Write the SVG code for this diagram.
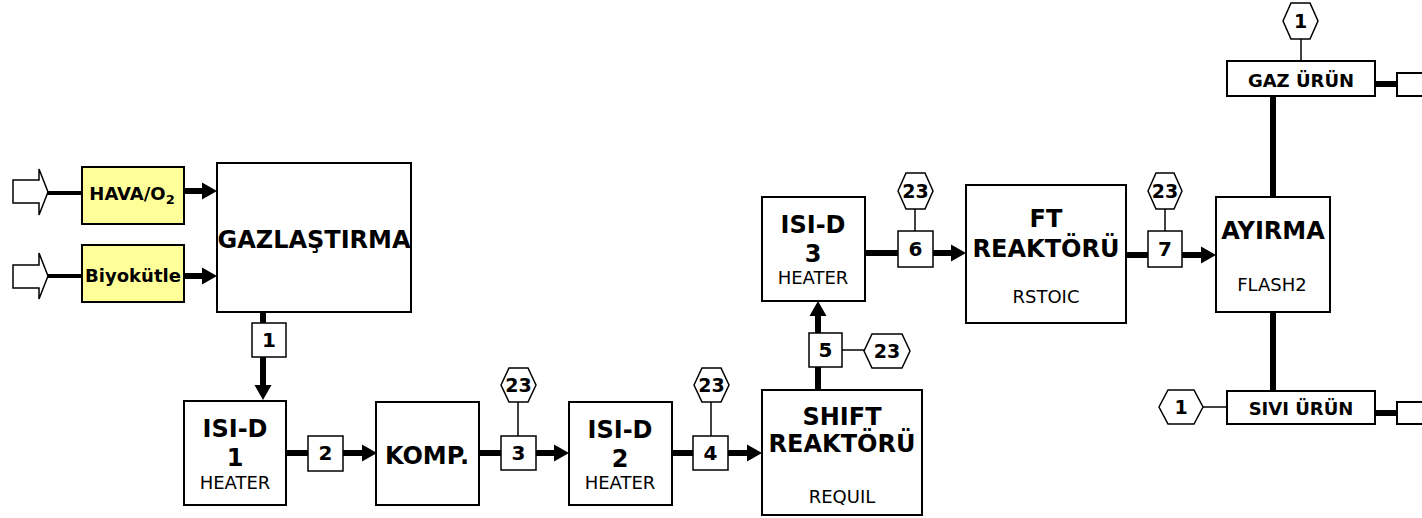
<svg xmlns="http://www.w3.org/2000/svg" width="1422" height="518" viewBox="0 0 1422 518">
<defs>
<style>
text{font-family:Verdana,"DejaVu Sans",sans-serif;fill:#000}
.blk{fill:#fff;stroke:#000;stroke-width:2}
.feedbox{fill:#ffff99;stroke:#000;stroke-width:2}
.sb{fill:#fff;stroke:#000;stroke-width:1.5}
.hex{fill:#fff;stroke:#000;stroke-width:1.5}
.thick{stroke:#000;stroke-width:6;fill:none}
.thin{stroke:#000;stroke-width:1.5;fill:none}
.feed{stroke:#000;stroke-width:4;fill:none}
.open{fill:#fff;stroke:#000;stroke-width:1.5}
.big{font-size:24px;font-weight:bold;text-anchor:middle}
.sub{font-size:18px;text-anchor:middle}
.num{font-size:20px;font-weight:bold;text-anchor:middle}
.hx{font-size:19px;font-weight:bold;text-anchor:middle}
.prod{font-size:18px;font-weight:bold;text-anchor:middle}
.lab{font-size:18px;font-weight:bold;text-anchor:middle}
</style>
<marker id="ah" markerUnits="userSpaceOnUse" markerWidth="16" markerHeight="18" refX="2" refY="8.5" orient="auto" overflow="visible">
<path d="M0,0 L15,8.5 L0,17 z" fill="#000"/>
</marker>
</defs>

<g id="connectors">
<polygon class="open" points="13,180 39,180 39,169 48,192 39,215 39,203 13,203"/>
<polygon class="open" points="13,265 39,265 39,253 48,276 39,299 39,288 13,288"/>
<line class="feed" x1="47" y1="193" x2="82" y2="193"/>
<line class="feed" x1="47" y1="276" x2="82" y2="276"/>
<line class="thick" x1="184" y1="191" x2="204" y2="191" marker-end="url(#ah)"/>
<line class="thick" x1="184" y1="276" x2="204" y2="276" marker-end="url(#ah)"/>
<line class="thick" x1="263" y1="312" x2="263" y2="387" marker-end="url(#ah)"/>
<line class="thick" x1="286" y1="453" x2="364" y2="453" marker-end="url(#ah)"/>
<line class="thick" x1="479" y1="453" x2="556" y2="453" marker-end="url(#ah)"/>
<line class="thin" x1="518" y1="402" x2="518" y2="436"/>
<line class="thick" x1="672" y1="453" x2="749" y2="453" marker-end="url(#ah)"/>
<line class="thin" x1="711" y1="402" x2="711" y2="436"/>
<line class="thick" x1="818" y1="390" x2="818" y2="314" marker-end="url(#ah)"/>
<line class="thin" x1="842" y1="350" x2="864" y2="350"/>
<line class="thick" x1="865" y1="253" x2="953" y2="253" marker-end="url(#ah)"/>
<line class="thin" x1="915" y1="209" x2="915" y2="231"/>
<line class="thick" x1="1126" y1="255" x2="1203" y2="255" marker-end="url(#ah)"/>
<line class="thin" x1="1165" y1="209" x2="1165" y2="231"/>
<line class="thick" x1="1273" y1="96" x2="1273" y2="197"/>
<line class="thick" x1="1273" y1="312" x2="1273" y2="391"/>
<line class="thin" x1="1301" y1="39" x2="1301" y2="61"/>
<line class="thin" x1="1203" y1="407" x2="1227" y2="407"/>
<line class="thick" x1="1375" y1="84" x2="1397" y2="84"/>
<line class="thick" x1="1375" y1="413" x2="1397" y2="413"/>
</g>

<g id="feed-hava">
<rect class="feedbox" x="82" y="167" width="102" height="57"/>
<text class="lab" x="132" y="200">HAVA/O<tspan font-size="13" dy="4">2</tspan></text>
</g>
<g id="feed-biyokutle">
<rect class="feedbox" x="82" y="245" width="102" height="57"/>
<text class="lab" x="133" y="282">Biyokütle</text>
</g>

<g id="gazlastirma">
<rect class="blk" x="217" y="163" width="194" height="149"/>
<text class="big" x="314" y="248">GAZLAŞTIRMA</text>
</g>

<g id="isid1">
<rect class="blk" x="184" y="401" width="102" height="104"/>
<text class="big" x="235" y="437">ISI-D</text>
<text class="big" x="235" y="466">1</text>
<text class="sub" x="235" y="489">HEATER</text>
</g>

<g id="komp">
<rect class="blk" x="376" y="402" width="103" height="103"/>
<text class="big" x="427" y="464">KOMP.</text>
</g>

<g id="isid2">
<rect class="blk" x="569" y="402" width="103" height="103"/>
<text class="big" x="620" y="438">ISI-D</text>
<text class="big" x="620" y="467">2</text>
<text class="sub" x="620" y="489">HEATER</text>
</g>

<g id="shift">
<rect class="blk" x="762" y="390" width="160" height="125"/>
<text class="big" x="842" y="425">SHIFT</text>
<text class="big" x="842" y="452">REAKTÖRÜ</text>
<text class="sub" x="842" y="503">REQUIL</text>
</g>

<g id="isid3">
<rect class="blk" x="762" y="197" width="103" height="104"/>
<text class="big" x="813" y="233">ISI-D</text>
<text class="big" x="813" y="262">3</text>
<text class="sub" x="813" y="284">HEATER</text>
</g>

<g id="ft">
<rect class="blk" x="966" y="185" width="160" height="138"/>
<text class="big" x="1046" y="227">FT</text>
<text class="big" x="1046" y="257">REAKTÖRÜ</text>
<text class="sub" x="1046" y="303">RSTOIC</text>
</g>

<g id="ayirma">
<rect class="blk" x="1216" y="197" width="114" height="115"/>
<text class="big" x="1273" y="239">AYIRMA</text>
<text class="sub" x="1272" y="291">FLASH2</text>
</g>

<g id="gaz-urun">
<rect class="blk" x="1227" y="61" width="148" height="35"/>
<text class="prod" x="1301" y="87">GAZ ÜRÜN</text>
</g>
<g id="sivi-urun">
<rect class="blk" x="1227" y="391" width="148" height="33"/>
<text class="prod" x="1301" y="415">SIVI ÜRÜN</text>
</g>
<g id="gaz-out">
<rect class="blk" x="1397" y="73" width="40" height="23"/>
</g>
<g id="sivi-out">
<rect class="blk" x="1397" y="402" width="40" height="22"/>
</g>

<g id="s1"><rect class="sb" x="252" y="323" width="34" height="34"/><text class="num" x="269" y="347">1</text></g>
<g id="s2"><rect class="sb" x="308" y="436" width="35" height="35"/><text class="num" x="325.5" y="460">2</text></g>
<g id="s3"><rect class="sb" x="501" y="436" width="35" height="34"/><text class="num" x="518.5" y="460">3</text></g>
<g id="s4"><rect class="sb" x="693" y="436" width="35" height="34"/><text class="num" x="710.5" y="460">4</text></g>
<g id="s5"><rect class="sb" x="809" y="333" width="33" height="34"/><text class="num" x="825.5" y="357">5</text></g>
<g id="s6"><rect class="sb" x="898" y="231" width="35" height="36"/><text class="num" x="915.5" y="256">6</text></g>
<g id="s7"><rect class="sb" x="1148" y="231" width="34" height="36"/><text class="num" x="1165" y="256">7</text></g>

<g id="h3"><polygon class="hex" points="501,385 509,368 528,368 536,385 528,402 509,402"/><text class="hx" x="518.5" y="392">23</text></g>
<g id="h4"><polygon class="hex" points="694,385 702,368 721,368 729,385 721,402 702,402"/><text class="hx" x="711.5" y="392">23</text></g>
<g id="h5"><polygon class="hex" points="864,351 872,334 902,334 910,351 902,368 872,368"/><text class="hx" x="887" y="358">23</text></g>
<g id="h6"><polygon class="hex" points="898,191 906,173 925,173 933,191 925,209 906,209"/><text class="hx" x="915.5" y="198">23</text></g>
<g id="h7"><polygon class="hex" points="1148,191 1156,173 1174,173 1182,191 1174,209 1156,209"/><text class="hx" x="1165" y="198">23</text></g>
<g id="h1top"><polygon class="hex" points="1283,21 1291,3 1310,3 1318,21 1310,39 1291,39"/><text class="hx" x="1300.5" y="28">1</text></g>
<g id="h1left"><polygon class="hex" points="1159,407 1168,390 1194,390 1203,407 1194,424 1168,424"/><text class="hx" x="1181" y="414">1</text></g>
</svg>
